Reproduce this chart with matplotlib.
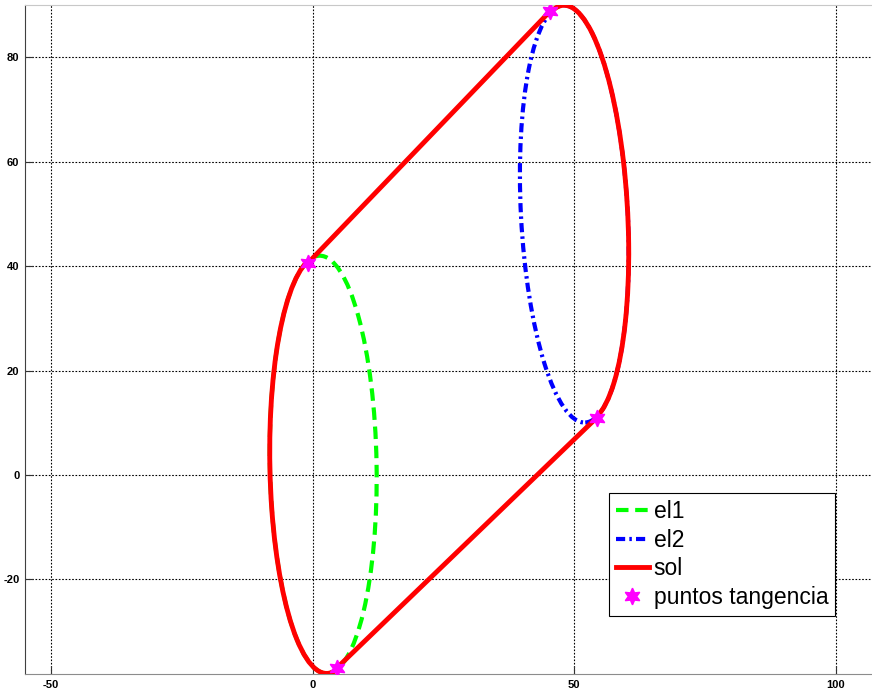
import numpy as np
import matplotlib
matplotlib.use('Agg')
from matplotlib import pyplot as plt
from matplotlib.patches import Ellipse, Arc
from matplotlib.lines import Line2D

plt.rcParams['axes.unicode_minus'] = False

# ellipse parameters (centre, semi-axes, tilt in degrees)
el_cx = [2.0, 50.0]
el_cy = [2.0, 50.0]
el_semi_x = [10.2, 10.2]
el_semi_y = [40.0, 40.0]
el_tilt = [1.0, 3.0]

# tangency points (top-left, top, bottom-right, bottom)
tan_x = [-0.9, 45.35, 54.3, 4.65]
tan_y = [40.6, 88.8, 11.0, -36.9]

x_ticks = [-50, 0, 50, 100]
y_ticks = [-20, 0, 20, 40, 60, 80]

fig = plt.figure(figsize=(8.72, 6.93), dpi=100)
ax = fig.add_axes([25 / 872, 19 / 693, 1 - 25 / 872, (674 - 5) / 693])

green_ls = (0, (3, 1.6))
blue_ls = (0, (2.2, 1.0, 0.6, 1.0))

el1 = Ellipse((el_cx[0], el_cy[0]), 2 * el_semi_x[0], 2 * el_semi_y[0], angle=el_tilt[0],
              fill=False, edgecolor='#00ff00', lw=3, linestyle=green_ls, zorder=3)
el2 = Ellipse((el_cx[1], el_cy[1]), 2 * el_semi_x[1], 2 * el_semi_y[1], angle=el_tilt[1],
              fill=False, edgecolor='#0000ff', lw=3, linestyle=blue_ls, zorder=3)
ax.add_patch(el1)
ax.add_patch(el2)


def ang(i, e):
    # angle of tangency point i seen from centre of ellipse e, in the ellipse frame
    return np.degrees(np.arctan2(tan_y[i] - el_cy[e], tan_x[i] - el_cx[e])) - el_tilt[e]


red = '#ff0000'
arc1 = Arc((el_cx[0], el_cy[0]), 2 * el_semi_x[0], 2 * el_semi_y[0], angle=el_tilt[0],
           theta1=ang(0, 0), theta2=ang(3, 0), color=red, lw=3.5, zorder=4)
arc2 = Arc((el_cx[1], el_cy[1]), 2 * el_semi_x[1], 2 * el_semi_y[1], angle=el_tilt[1],
           theta1=ang(2, 1), theta2=ang(1, 1), color=red, lw=3.5, zorder=4)
ax.add_patch(arc1)
ax.add_patch(arc2)
ax.plot([tan_x[0], tan_x[1]], [tan_y[0], tan_y[1]], color=red, lw=3.5, zorder=4,
        solid_capstyle='round')
ax.plot([tan_x[3], tan_x[2]], [tan_y[3], tan_y[2]], color=red, lw=3.5, zorder=4,
        solid_capstyle='round')

hexa = (6, 1, 0)
ax.plot(tan_x, tan_y, linestyle='none', marker=hexa, ms=12, color='#ff00ff',
        markeredgecolor='#ff00ff', zorder=5)

ax.set_xlim(-55.0, 106.9)
ax.set_ylim(-38.1, 90.0)
ax.set_xticks(x_ticks)
ax.set_yticks(y_ticks)
ax.grid(True, color='k', linestyle=(0, (1.5, 1.5)), linewidth=0.8)
ax.set_axisbelow(True)
ax.tick_params(direction='in', length=6, width=0.8, labelsize=8, pad=4, color='#333333')
for lab in ax.get_xticklabels() + ax.get_yticklabels():
    lab.set_fontweight('bold')
    lab.set_family('Liberation Sans')
ax.spines['right'].set_visible(False)
ax.spines['left'].set_color('#404040')
ax.spines['bottom'].set_color('#8c8c8c')
ax.spines['top'].set_color('#c8c8c8')

handles = [
    Line2D([], [], color='#00ff00', lw=3, linestyle=green_ls),
    Line2D([], [], color='#0000ff', lw=3, linestyle=blue_ls),
    Line2D([], [], color=red, lw=3.5),
    Line2D([], [], linestyle='none', marker=hexa, ms=12, color='#ff00ff'),
]
leg = ax.legend(handles, ['el1', 'el2', 'sol', 'puntos tangencia'],
                loc='upper left', bbox_to_anchor=(609 / 872, 1 - 493 / 693),
                bbox_transform=fig.transFigure, fancybox=False, framealpha=1,
                edgecolor='k', prop={'family': 'Liberation Sans', 'size': 16.5},
                handlelength=1.45, handletextpad=0.2, borderpad=0.3, labelspacing=0.25,
                borderaxespad=0)
leg.get_frame().set_linewidth(0.8)

fig.savefig('out.png', dpi=100)
